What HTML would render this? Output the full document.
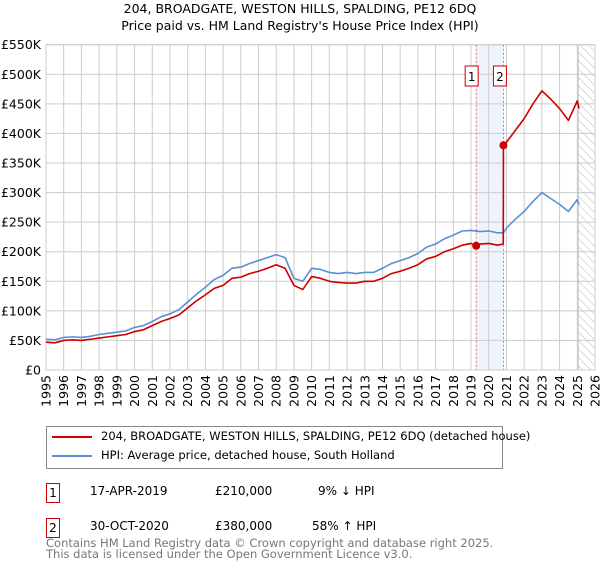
<!DOCTYPE html>
<html><head><meta charset="utf-8"><style>
body{margin:0;background:#fff;font-family:"DejaVu Sans","Liberation Sans",sans-serif;}
#wrap{position:relative;width:600px;height:560px;overflow:hidden}
.t{position:absolute;font-size:12px;color:#000;white-space:nowrap}
</style></head><body><div id="wrap">
<svg id="c" width="600" height="560" style="position:absolute;left:0;top:0"></svg>
</div>
<script>
const hpiYears=[1995,1995.5,1996,1996.5,1997,1997.5,1998,1998.5,1999,1999.5,2000,2000.5,2001,2001.5,2002,2002.5,2003,2003.5,2004,2004.5,2005,2005.5,2006,2006.5,2007,2007.5,2008,2008.5,2009,2009.5,2010,2010.5,2011,2011.5,2012,2012.5,2013,2013.5,2014,2014.5,2015,2015.5,2016,2016.5,2017,2017.5,2018,2018.5,2019,2019.5,2020,2020.5,2020.83,2021,2021.5,2022,2022.5,2023,2023.5,2024,2024.5,2025,2025.1];
const hpiValues=[52,51,55,56,55,57,60,62,64,66,72,75,82,90,95,102,115,128,140,153,160,172,174,180,185,190,195,190,155,150,172,170,165,163,165,163,165,165,172,180,185,190,197,208,213,222,228,235,236,234,235,232,232,240,255,268,285,300,290,280,268,288,280];
const propYears=[1995,1995.5,1996,1996.5,1997,1997.5,1998,1998.5,1999,1999.5,2000,2000.5,2001,2001.5,2002,2002.5,2003,2003.5,2004,2004.5,2005,2005.5,2006,2006.5,2007,2007.5,2008,2008.5,2009,2009.5,2010,2010.5,2011,2011.5,2012,2012.5,2013,2013.5,2014,2014.5,2015,2015.5,2016,2016.5,2017,2017.5,2018,2018.5,2019,2019.29,2019.5,2020,2020.5,2020.82,2020.83,2021,2021.5,2022,2022.5,2023,2023.5,2024,2024.5,2025,2025.1];
const propValues=[47,46,50,51,50,52,54,56,58,60,65,68,75,82,87,93,105,117,127,138,143,155,157,163,167,172,178,172,143,136,158,155,150,148,147,147,150,150,155,163,167,172,178,188,192,200,205,211,214,210,213,214,211,213,380,385,405,425,450,472,458,442,422,455,442];
const sales=[{n:"1",x:2019.29,v:210},{n:"2",x:2020.83,v:380}];
const yTicks=[0,50,100,150,200,250,300,350,400,450,500,550];
const xTicks=[];for(let y=1995;y<=2026;y++)xTicks.push(y);
const X0=46,X1=595,Y0=370,Y1=44.7;
const xs=v=>X0+(v-1995)/31*(X1-X0);
const ys=v=>Y0-v/550*(Y0-Y1);
const svg=document.getElementById('c');const NS='http://www.w3.org/2000/svg';
function mk(tag,at,p){const e=document.createElementNS(NS,tag);for(const k in at)e.setAttribute(k,at[k]);(p||svg).appendChild(e);return e;}
let e;
// band
e=mk('rect',{x:xs(2019.29),y:Y1,width:xs(2020.83)-xs(2019.29),height:Y0-Y1,fill:'#eef3fc'});


// grid
yTicks.forEach(t=>{e=mk('line',{x1:X0,x2:X1,y1:ys(t),y2:ys(t),stroke:'#cccccc','stroke-width':1});


e=mk('text',{x:X0-5,y:ys(t)+4.5,'text-anchor':'end','font-size':12.5,fill:'#000'});e.textContent='£'+(t?t+'K':'0');

});
xTicks.forEach(t=>{e=mk('line',{x1:xs(t),x2:xs(t),y1:Y1,y2:Y0,stroke:'#cccccc','stroke-width':1});


e=mk('text',{transform:`translate(${xs(t)+4.5},${Y0+5}) rotate(-90)`,'text-anchor':'end','font-size':12.5,fill:'#000'});e.textContent=t;

});
// hatch
const defs=mk('defs',{});const pat=mk('pattern',{id:'h',width:6,height:6,patternUnits:'userSpaceOnUse',patternTransform:'rotate(-45)'},defs);
mk('line',{x1:0,y1:0,x2:0,y2:6,stroke:'#bbbbbb','stroke-width':1},pat);
e=mk('rect',{x:xs(2025.05),y:Y1,width:X1-xs(2025.05),height:Y0-Y1,fill:'url(#h)',stroke:'#999','stroke-width':0.5});


e=mk('rect',{x:X0,y:Y1,width:X1-X0,height:Y0-Y1,fill:'none',stroke:'#cccccc'});


sales.forEach(s=>{e=mk('line',{x1:xs(s.x),x2:xs(s.x),y1:Y1,y2:Y0,stroke:'#e05555','stroke-dasharray':'2,2','stroke-width':0.8});

});
function line(xa,va,col,name){e=mk('polyline',{points:xa.map((x,i)=>xs(x)+','+ys(va[i])).join(' '),fill:'none',stroke:col,'stroke-width':1.6,'stroke-linejoin':'round'});

}
line(hpiYears,hpiValues,'#5b8fd4','hpi-line');
line(propYears,propValues,'#cc0000','property-price-line');
sales.forEach(s=>{e=mk('circle',{cx:xs(s.x),cy:ys(s.v),r:4,fill:'#cc0000'});


const bx=xs(s.x)-(s.n==='1'?13:-1)-0;const g=mk('g',{});


const lx=s.n==='1'?xs(s.x)-11:xs(s.x)-10;
mk('rect',{x:lx,y:66,width:13,height:20,fill:'#fff',stroke:'#cc0000'},g);
const tt=mk('text',{x:lx+6.5,y:81,'text-anchor':'middle','font-size':12,fill:'#000'},g);tt.textContent=s.n;});
</script>
<div class="t" style="left:0;width:600px;text-align:center;top:1px;font-size:12.5px">204, BROADGATE, WESTON HILLS, SPALDING, PE12 6DQ</div>
<div class="t" style="left:0;width:600px;text-align:center;top:18px;font-size:12.5px">Price paid vs. HM Land Registry's House Price Index (HPI)</div>
<div style="position:absolute;left:46px;top:426px;width:455px;height:41px;border:1px solid #888">
 <div style="position:absolute;left:5px;top:9px;width:40px;height:2px;background:#cc0000"></div>
 <div class="t" style="left:54px;top:2px;font-size:11.5px">204, BROADGATE, WESTON HILLS, SPALDING, PE12 6DQ (detached house)</div>
 <div style="position:absolute;left:5px;top:28px;width:40px;height:2px;background:#5b8fd4"></div>
 <div class="t" style="left:54px;top:21px;font-size:11.5px">HPI: Average price, detached house, South Holland</div>
</div>
<div>
<div class="t" style="left:46px;top:483px;width:12px;height:18px;border:1px solid #cc0000;text-align:center;line-height:18px">1</div>
<div class="t" style="left:90px;top:484px">17-APR-2019</div>
<div class="t" style="left:215px;top:484px">£210,000</div>
<div class="t" style="left:318px;top:484px">9% ↓ HPI</div></div>
<div>
<div class="t" style="left:46px;top:518px;width:12px;height:18px;border:1px solid #cc0000;text-align:center;line-height:18px">2</div>
<div class="t" style="left:90px;top:519px">30-OCT-2020</div>
<div class="t" style="left:215px;top:519px">£380,000</div>
<div class="t" style="left:312px;top:519px">58% ↑ HPI</div></div>
<div class="t" style="left:46px;top:538px;color:#777;font-size:11.5px;line-height:11px">Contains HM Land Registry data © Crown copyright and database right 2025.<br>This data is licensed under the Open Government Licence v3.0.</div>
</body></html>
